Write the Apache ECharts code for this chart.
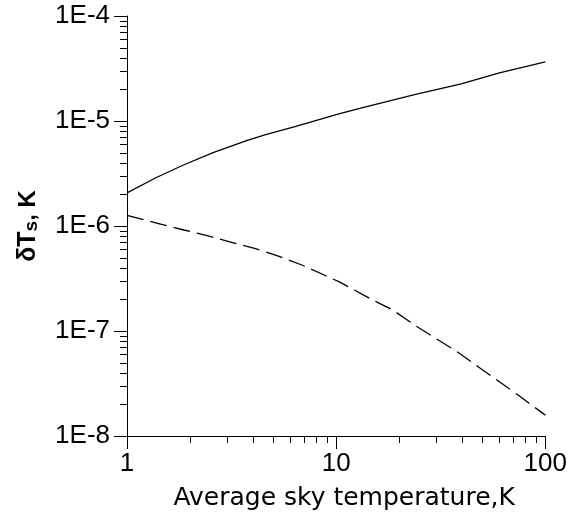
<!DOCTYPE html>
<html>
<head>
<meta charset="utf-8">
<script src="https://cdn.jsdelivr.net/npm/echarts@6/dist/echarts.min.js"></script>
<style>html,body{margin:0;padding:0;background:#fff;}#c{width:570px;height:516px;}</style>
</head>
<body>
<div id="c"></div>
<script>
// Solid curve
const solidX = [1, 1.375, 1.86, 2.58, 3.73, 4.56, 6.29, 10.3, 13.4, 23.7, 39.6, 60.3, 100];
const solidY = [2.07e-6, 2.88e-6, 3.81e-6, 4.99e-6, 6.49e-6, 7.36e-6, 8.77e-6, 1.17e-5, 1.34e-5, 1.78e-5, 2.26e-5, 2.88e-5, 3.65e-5];
// Dashed curve
const dashX = [1, 1.43, 1.87, 2.42, 3.16, 4.16, 5.38, 6.9, 8.98, 10.3, 14.7, 18.7, 23.7, 30.1, 38.2, 47.9, 60.3, 75.2, 100];
const dashY = [1.26e-6, 1.05e-6, 9.16e-7, 8.09e-7, 7.0e-7, 6.04e-7, 5.1e-7, 4.23e-7, 3.34e-7, 2.95e-7, 2.01e-7, 1.58e-7, 1.14e-7, 8.45e-8, 6.27e-8, 4.54e-8, 3.29e-8, 2.40e-8, 1.58e-8];
// Tick labels
const xTickLabels = ['1', '10', '100'];
const yTickLabels = ['1E-8', '1E-7', '1E-6', '1E-5', '1E-4'];
// Minor tick positions
const xMinor = [2, 3, 4, 5, 6, 7, 8, 9, 20, 30, 40, 50, 60, 70, 80, 90];
const yMinor = [2e-8,3e-8,4e-8,5e-8,6e-8,7e-8,8e-8,9e-8,2e-7,3e-7,4e-7,5e-7,6e-7,7e-7,8e-7,9e-7,2e-6,3e-6,4e-6,5e-6,6e-6,7e-6,8e-6,9e-6,2e-5,3e-5,4e-5,5e-5,6e-5,7e-5,8e-5,9e-5];

const X_MIN = 1, X_MAX = 100, Y_MIN = 1e-8, Y_MAX = 1e-4;

const chart = echarts.init(document.getElementById('c'), null, {renderer: 'canvas'});
const tickFont = '"Liberation Sans", Arial, sans-serif';

chart.setOption({
  animation: false,
  backgroundColor: '#fff',
  grid: {left: 127, right: 24, top: 16, bottom: 80},
  xAxis: {
    type: 'log', logBase: 10, min: X_MIN, max: X_MAX,
    name: 'Average sky temperature,K',
    nameLocation: 'middle', nameGap: 50,
    nameTextStyle: {color: '#000', fontSize: 25, fontFamily: '"DejaVu Sans", sans-serif', padding: [0, 0, 0, 16]},
    axisLine: {lineStyle: {color: '#000', width: 1}},
    axisTick: {show: true, inside: false, length: 13, lineStyle: {color: '#000', width: 1}},
    axisLabel: {color: '#000', fontSize: 26, fontFamily: tickFont, margin: 15,
      formatter: (v, i) => xTickLabels[i] !== undefined ? xTickLabels[i] : ''},
    splitLine: {show: false}, minorTick: {show: false}
  },
  yAxis: {
    type: 'log', logBase: 10, min: Y_MIN, max: Y_MAX,
    name: '{d|δT}{s|s}{k|, K}',
    nameLocation: 'middle', nameGap: 86, nameRotate: 90,
    nameTextStyle: {
      color: '#000',
      rich: {
        d: {fontSize: 25, fontWeight: 'bold', fontFamily: tickFont, color: '#000'},
        s: {fontSize: 19, fontWeight: 'bold', fontFamily: tickFont, color: '#000', verticalAlign: 'bottom', padding: [6, 0, 0, 0]},
        k: {fontSize: 24, fontWeight: 'bold', fontFamily: tickFont, color: '#000'}
      }
    },
    axisLine: {show: true, lineStyle: {color: '#000', width: 1}},
    axisTick: {show: true, inside: false, length: 13, lineStyle: {color: '#000', width: 1}},
    axisLabel: {color: '#000', fontSize: 26, fontFamily: tickFont, margin: 17,
      formatter: (v, i) => yTickLabels[i] !== undefined ? yTickLabels[i] : ''},
    splitLine: {show: false}, minorTick: {show: false}
  },
  series: [
    {
      type: 'line', data: solidX.map((x, i) => [x, solidY[i]]),
      showSymbol: false, symbol: 'none', smooth: false,
      lineStyle: {color: '#000', width: 1.3}
    },
    {
      type: 'line', data: dashX.map((x, i) => [x, dashY[i]]),
      showSymbol: false, symbol: 'none', smooth: false,
      lineStyle: {color: '#000', width: 1.3, type: [17, 7]}
    },
    {
      type: 'custom', clip: false, silent: true,
      data: xMinor.map(v => [v, Y_MIN]),
      renderItem: (params, api) => {
        const p = api.coord([api.value(0), api.value(1)]);
        const x = Math.round(p[0]) + 0.5, y = Math.round(p[1]);
        return {type: 'line', shape: {x1: x, y1: y, x2: x, y2: y + 7}, style: {stroke: '#000', lineWidth: 1}};
      }
    },
    {
      type: 'custom', clip: false, silent: true,
      data: yMinor.map(v => [X_MIN, v]),
      renderItem: (params, api) => {
        const p = api.coord([api.value(0), api.value(1)]);
        const x = Math.round(p[0]), y = Math.round(p[1]) + 0.5;
        return {type: 'line', shape: {x1: x - 7, y1: y, x2: x, y2: y}, style: {stroke: '#000', lineWidth: 1}};
      }
    }
  ]
});
</script>
</body>
</html>
